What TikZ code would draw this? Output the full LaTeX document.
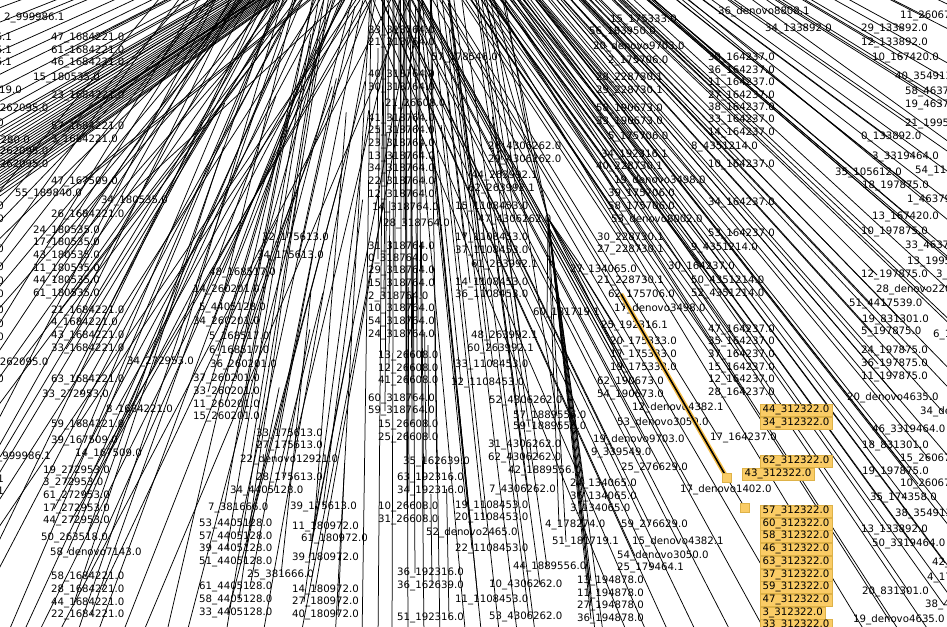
\documentclass[tikz,border=0pt]{standalone}
\usepackage{fontspec}
\setmainfont{DejaVu Sans}
\usetikzlibrary{calc}
\definecolor{boxfill}{RGB}{250,204,102}
\definecolor{boxline}{RGB}{222,178,72}
\definecolor{glow}{RGB}{246,190,72}
\begin{document}
\begin{tikzpicture}[x=1pt,y=-1pt,
  lbl/.style={anchor=west,inner sep=0pt,font=\fontsize{10.2pt}{12pt}\selectfont},
  lblr/.style={anchor=east,inner sep=0pt,font=\fontsize{10.2pt}{12pt}\selectfont},
  edge/.style={line width=0.75pt,black},
  hitbox/.style={anchor=west,fill=boxfill,draw=boxline,line width=0.6pt,inner xsep=2.4pt,inner ysep=0pt,minimum height=12.4pt,font=\fontsize{10.2pt}{12pt}\selectfont},
  sq/.style={fill=boxfill,draw=boxline,line width=0.6pt,minimum size=9pt,inner sep=0pt}]
\useasboundingbox (0,0) rectangle (947,626);
\fill[white] (0,0) rectangle (947,626);
\clip (0,0) rectangle (947,626);
% internal nodes (outside the frame)
\coordinate (HA1) at (560,-200);
\coordinate (HB) at (400,-2000);
\coordinate (HF) at (300,-1200);
\coordinate (HC) at (548,218);
\coordinate (HD) at (200,-400);
\coordinate (HE) at (300,-300);
\foreach \x [count=\i] in {455,470,482}{
  \coordinate (up\i) at (\x,-100); \draw[edge] (HC) -- (up\i);}
% edges to leaves outside the frame
\foreach \y [count=\i] in {15,30,45,60,72,84,98,112,122,132,140,144,148,152,156,160,163,166,169,172,175,178,181,184,187,190,193,196,199,202,206,210}{
  \coordinate (ea\i) at (-20,\y); \draw[edge] (HA1) -- (ea\i);}
\foreach \y [count=\i] in {215,228,242,258,275,292,310,330,355,380,405,430,455,480,505,530,555,580,605}{
  \pgfmathtruncatemacro\d{mod(\i*47,200)-60}
  \coordinate (eb\i) at (-20,\y); \coordinate (fb\i) at (420+\d,-300); \draw[edge] (fb\i) -- (eb\i);}
\foreach \x [count=\i] in {5,20,35,55,75,95,120,140,165,185}{
  \pgfmathtruncatemacro\d{mod(\i*47,200)-60}
  \coordinate (ec\i) at (\x,640); \coordinate (fc\i) at (420+\d,-300); \draw[edge] (fc\i) -- (ec\i);}
\foreach \x [count=\i] in {225,262,300,335}{
  \pgfmathtruncatemacro\d{mod(\i*53,160)-80}
  \coordinate (ed\i) at (\x,640); \coordinate (fd\i) at (420+\d,-400); \draw[edge] (fd\i) -- (ed\i);}
\foreach \x [count=\i] in {362,378,392,408,424,440}{
  \coordinate (ee\i) at (\x,640); \draw[edge] (HB) -- (ee\i);}
\foreach \x [count=\i] in {466,482,500,518,536}{
  \coordinate (ef\i) at (\x,640); \draw[edge] (HF) -- (ef\i);}
\foreach \x [count=\i] in {596,604}{
  \coordinate (eg\i) at (\x,640); \draw[edge] (HC) -- (eg\i);}
\foreach \x [count=\i] in {630,650,672,700,735,770,805}{
  \coordinate (eh\i) at (\x,640); \draw[edge] (HD) -- (eh\i);}
\foreach \y [count=\i] in {150,230,300,380}{
  \coordinate (ei\i) at (960,\y); \draw[edge] (HD) -- (ei\i);}
\foreach \y [count=\i] in {10,35,70,110,160,210,260,330,400,470,540,610}{
  \coordinate (ej\i) at (960,\y); \draw[edge] (HE) -- (ej\i);}
\foreach \x [count=\i] in {870,905,935}{
  \coordinate (ek\i) at (\x,640); \draw[edge] (HE) -- (ek\i);}
% ---- leaves, top left
\foreach \x/\y/\t [count=\i] in {
4/18/2\_999986.1,51/38/47\_1684221.0,51/51/61\_1684221.0,51/63/46\_1684221.0,33/78/15\_180535.0,51/96/23\_1684221.0,
-12/109/4\_262095.0,51/127/57\_1684221.0,51/140/3\_1684221.0,-12/152/4\_262095.0,-12/165/4\_262095.0,
51/182/47\_167509.0,15/194/55\_189840.0,101/201/34\_180535.0}{
  \pgfmathtruncatemacro\o{mod(\i*17,45)}
  \coordinate (pa\i) at (\x+8+\o,\y);
  \draw[edge] (HA1) -- (pa\i);
  \node[lbl] (a\i) at (\x,\y) {\t};}
% ---- leaves, lower left
\foreach \x/\y/\t [count=\i] in {
51/215/26\_1684221.0,
33/231/24\_180535.0,33/243/17\_180535.0,33/256/43\_180535.0,33/269/11\_180535.0,33/281/44\_180535.0,33/294/61\_180535.0,
51/311/21\_1684221.0,51/323/4\_1684221.0,51/336/43\_1684221.0,51/349/33\_1684221.0,-12/363/4\_262095.0,
127/362/34\_272953.0,51/380/63\_1684221.0,42/395/33\_272953.0,106/410/8\_1684221.0,51/425/59\_1684221.0,
51/441/39\_167509.0,-16/457/51\_999986.1,75/454/14\_167509.0,43/471/19\_272953.0,43/483/3\_272953.0,
43/496/61\_272953.0,43/509/17\_272953.0,43/521/44\_272953.0,41/538/50\_263518.0,50/553/58\_denovo7143.0,
51/577/58\_1684221.0,51/590/28\_1684221.0,51/603/44\_1684221.0,51/615/22\_1684221.0}{
  \pgfmathtruncatemacro\o{mod(\i*17,45)}
  \pgfmathtruncatemacro\L{350+mod(\i*71,500)}
  \pgfmathtruncatemacro\d{mod(\i*47,200)-60}
  \coordinate (pl\i) at (\x+8+\o,\y);
  \coordinate (hl\i) at (420+\d,-300);
  \coordinate (ql\i) at ($(pl\i)!\L pt!(hl\i)$);
  \draw[edge] (pl\i) -- (ql\i);
  \node[lbl] (l\i) at (\x,\y) {\t};}
% ---- leaves, middle left
\foreach \x/\y/\t [count=\i] in {
262/238/32\_175613.0,257/256/34\_175613.0,209/273/48\_168517.0,193/290/14\_260201.0,199/308/5\_4405128.0,
193/322/34\_260201.0,209/337/5\_168517.0,209/351/6\_168517.0,210/365/36\_260201.0,193/379/37\_260201.0,
193/392/33\_260201.0,193/405/11\_260201.0,193/417/15\_260201.0,256/434/33\_175613.0,256/446/27\_175613.0,
240/460/22\_denovo12921.0,256/478/28\_175613.0,230/491/34\_4405128.0,208/508/7\_381666.0,290/507/39\_175613.0,
199/524/53\_4405128.0,292/527/11\_180972.0,199/537/57\_4405128.0,301/539/61\_180972.0,199/549/39\_4405128.0,
199/562/51\_4405128.0,292/558/39\_180972.0,247/575/25\_381666.0,199/587/61\_4405128.0,292/590/14\_180972.0,
199/600/58\_4405128.0,292/602/27\_180972.0,199/613/33\_4405128.0,292/615/40\_180972.0}{
  \pgfmathtruncatemacro\o{mod(\i*17,45)}
  \pgfmathtruncatemacro\L{150+mod(\i*53,450)}
  \pgfmathtruncatemacro\d{mod(\i*53,160)-80}
  \coordinate (pm\i) at (\x+8+\o,\y);
  \coordinate (hm\i) at (420+\d,-400);
  \coordinate (qm\i) at ($(pm\i)!\L pt!(hm\i)$);
  \draw[edge] (pm\i) -- (qm\i);
  \node[lbl] (m\i) at (\x,\y) {\t};}
% cut labels at the left edge
\foreach \x/\y/\t [count=\i] in {
12/38/12\_999986.1,12/51/16\_999986.1,12/63/22\_999986.1,22/91/41\_263519.0,4/124/40\_180535.0,30/141/9\_263280.0,
4/207/35\_180535.0,4/220/19\_180535.0,4/250/52\_180535.0,4/268/8\_180535.0,4/282/6\_180535.0,4/295/2\_180535.0,
4/311/13\_180535.0,4/325/31\_180535.0,4/338/49\_180535.0,4/380/27\_262095.0,4/480/7\_999986.1,4/492/45\_999986.1}{
  \node[lblr] (r\i) at (\x,\y) {\t};}
% ---- leaves of the middle column
\foreach \x/\y/\t [count=\i] in {
368/31/33\_318764.0,368/43/21\_318764.0,368/75/40\_318764.0,368/88/30\_318764.0,385/104/21\_26608.0,
368/119/41\_318764.0,368/131/25\_318764.0,368/144/23\_318764.0,368/157/13\_318764.0,368/169/34\_318764.0,
368/182/22\_318764.0,368/195/12\_318764.0,372/208/14\_318764.0,383/224/28\_318764.0,368/247/31\_318764.0,
368/259/0\_318764.0,368/271/29\_318764.0,368/284/15\_318764.0,368/297/2\_318764.0,368/309/10\_318764.0,
368/322/54\_318764.0,368/335/24\_318764.0,378/356/13\_26608.0,378/369/12\_26608.0,378/381/41\_26608.0,
368/399/60\_318764.0,368/411/59\_318764.0,378/425/15\_26608.0,378/438/25\_26608.0,403/462/35\_162639.0,
397/478/63\_192316.0,397/491/34\_192316.0,378/507/10\_26608.0,378/520/31\_26608.0,397/573/36\_192316.0,
397/586/36\_162639.0,397/618/51\_192316.0}{
  \pgfmathtruncatemacro\o{mod(\i*17,45)}
  \pgfmathtruncatemacro\L{60+mod(\i*37,260)}
  \coordinate (pb\i) at (\x+8+\o,\y);
  \coordinate (qb\i) at ($(pb\i)!\L pt!(HB)$);
  \draw[edge] (pb\i) -- (qb\i);
  \node[lbl] (b\i) at (\x,\y) {\t};}
% ---- leaves of hub F
\foreach \x/\y/\t [count=\i] in {
431/58/57\_178546.0,488/147/26\_4306262.0,488/160/29\_4306262.0,471/176/44\_263992.1,468/189/62\_263992.1,
455/207/15\_1108453.0,478/220/47\_4306262.0,455/238/17\_1108453.0,455/251/37\_1108453.0,471/265/61\_263992.1,
455/283/14\_1108453.0,455/295/36\_1108453.0,471/336/48\_263992.1,467/349/60\_263992.1,455/365/33\_1108453.0,
451/383/12\_1108453.0,489/401/52\_4306262.0,513/416/57\_1889556.0,513/427/59\_1889556.0,488/445/31\_4306262.0,
488/458/62\_4306262.0,508/471/42\_1889556.0,489/490/7\_4306262.0,455/506/19\_1108453.0,455/518/20\_1108453.0,
426/533/52\_denovo2465.0,455/549/22\_1108453.0,513/567/44\_1889556.0,489/585/10\_4306262.0,455/600/11\_1108453.0,
489/617/53\_4306262.0}{
  \pgfmathtruncatemacro\o{mod(\i*17,45)}
  \pgfmathtruncatemacro\L{120+mod(\i*43,400)}
  \coordinate (pf\i) at (\x+8+\o,\y);
  \coordinate (qf\i) at ($(pf\i)!\L pt!(HF)$);
  \draw[edge] (pf\i) -- (qf\i);
  \node[lbl] (f\i) at (\x,\y) {\t};}
% ---- leaves of hub C
\foreach \x/\y/\t [count=\i] in {
570/270/27\_134065.0,533/313/60\_181719.1,601/326/25\_192316.1,610/342/20\_175333.0,610/355/17\_175333.0,
610/368/19\_175333.0,570/484/24\_134065.0,570/497/36\_134065.0,570/509/3\_134065.0,545/525/4\_178274.0,
552/542/51\_181719.1,577/581/13\_194878.0,577/594/11\_194878.0,577/606/27\_194878.0,577/619/36\_194878.0}{
  \coordinate (pc\i) at (\x+14,\y);
  \draw[edge] (HC) -- (pc\i);
  \node[lbl] (c\i) at (\x,\y) {\t};}
% ---- leaves of hub D
\foreach \x/\y/\t [count=\i] in {
610/20/15\_175333.0,589/32/56\_183950.0,593/47/20\_denovo9703.0,608/61/2\_175706.0,596/78/28\_228730.1,
596/91/29\_228730.1,596/109/58\_190673.0,596/122/33\_190673.0,608/137/5\_175706.0,601/155/34\_192316.1,
596/167/40\_228730.1,691/147/8\_4351214.0,614/181/19\_denovo3498.0,608/194/39\_175706.0,608/207/58\_175706.0,
611/220/53\_denovo8002.0,597/238/30\_228730.1,597/250/27\_228730.1,691/248/9\_4351214.0,668/267/30\_164237.0,
597/281/21\_228730.1,691/281/50\_4351214.0,691/294/52\_4351214.0,614/309/17\_denovo3498.0,
597/382/62\_190673.0,597/395/54\_190673.0,632/408/12\_denovo4382.1,617/423/53\_denovo3050.0,593/440/19\_denovo9703.0,
591/453/9\_339549.0,621/468/25\_276629.0,680/490/17\_denovo1402.0,621/525/59\_276629.0,632/542/15\_denovo4382.1,
617/556/54\_denovo3050.0,617/568/25\_179464.1,708/58/39\_164237.0,708/71/36\_164237.0,708/83/11\_164237.0,
708/96/27\_164237.0,708/108/38\_164237.0,708/120/33\_164237.0,708/133/14\_164237.0,708/165/10\_164237.0,
708/203/34\_164237.0,708/234/53\_164237.0,708/330/47\_164237.0,708/342/35\_164237.0,708/355/37\_164237.0,
708/368/15\_164237.0,708/380/12\_164237.0,708/393/28\_164237.0,710/438/17\_164237.0,718/12/36\_denovo8808.1,
765/29/34\_133892.0}{
  \pgfmathtruncatemacro\o{mod(\i*17,45)}
  \coordinate (pd\i) at (\x+8+\o,\y);
  \draw[edge] (HD) -- (pd\i);
  \node[lbl] (d\i) at (\x,\y) {\t};}
% ---- leaves of hub E
\foreach \x/\y/\t [count=\i] in {
900/16/11\_260670.0,861/29/29\_133892.0,861/43/12\_133892.0,872/58/10\_167420.0,895/77/40\_354913.0,
905/92/58\_463792.0,905/105/19\_463792.0,905/124/21\_199565.0,861/137/0\_133892.0,872/157/3\_3319464.0,
835/173/35\_105612.0,915/171/54\_116542.0,862/186/18\_197875.0,907/200/1\_463792.0,872/217/13\_167420.0,
861/232/10\_197875.0,905/246/33\_463792.0,907/262/13\_199565.0,861/275/12\_197875.0,936/275/3\_463792.0,
876/290/28\_denovo2208.0,849/304/51\_4417539.0,862/320/19\_831301.0,861/332/5\_197875.0,933/335/6\_197875.0,
861/351/24\_197875.0,861/364/36\_197875.0,861/377/11\_197875.0,847/398/20\_denovo4635.0,920/412/34\_denovo4635.0,
872/430/46\_3319464.0,862/446/18\_831301.0,900/459/15\_260670.0,862/472/19\_197875.0,900/484/10\_260670.0,
870/498/35\_174358.0,895/514/38\_354913.0,861/530/13\_133892.0,872/544/50\_3319464.0,932/563/42\_354913.0,
927/578/4\_174358.0,862/592/20\_831301.0,925/605/38\_463792.0,853/620/19\_denovo4635.0}{
  \pgfmathtruncatemacro\o{mod(\i*17,45)}
  \coordinate (pe\i) at (\x+8+\o,\y);
  \draw[edge] (HE) -- (pe\i);
  \node[lbl] (e\i) at (\x,\y) {\t};}
% ---- highlighted clade
\node[lbl] (hlt) at (608,295) {62\_175706.0};
\coordinate (hs) at (621,294);
\draw[edge] (HD) -- (hs);
\node[sq] (s1) at (727,478) {};
\node[sq] (s2) at (745,508) {};
\draw[glow,line width=4.5pt] (hs) -- (s1.center);
\draw[black,line width=1.6pt] (hs) -- (s1.center);
\draw[edge] (s1.center) -- (s2.center);
\node[sq] at (727,478) {};
\node[sq] at (745,508) {};
\foreach \x/\y/\t [count=\i] in {
760/410/44\_312322.0,760/423/34\_312322.0,760/461/62\_312322.0,742/474/43\_312322.0,760/511/57\_312322.0,
760/524/60\_312322.0,760/536/58\_312322.0,760/549/46\_312322.0,760/562/63\_312322.0,760/575/37\_312322.0,
760/587/59\_312322.0,760/600/47\_312322.0,760/613/3\_312322.0,760/625/33\_312322.0}{
  \node[hitbox] (h\i) at (\x,\y) {\t};}
\end{tikzpicture}
\end{document}
